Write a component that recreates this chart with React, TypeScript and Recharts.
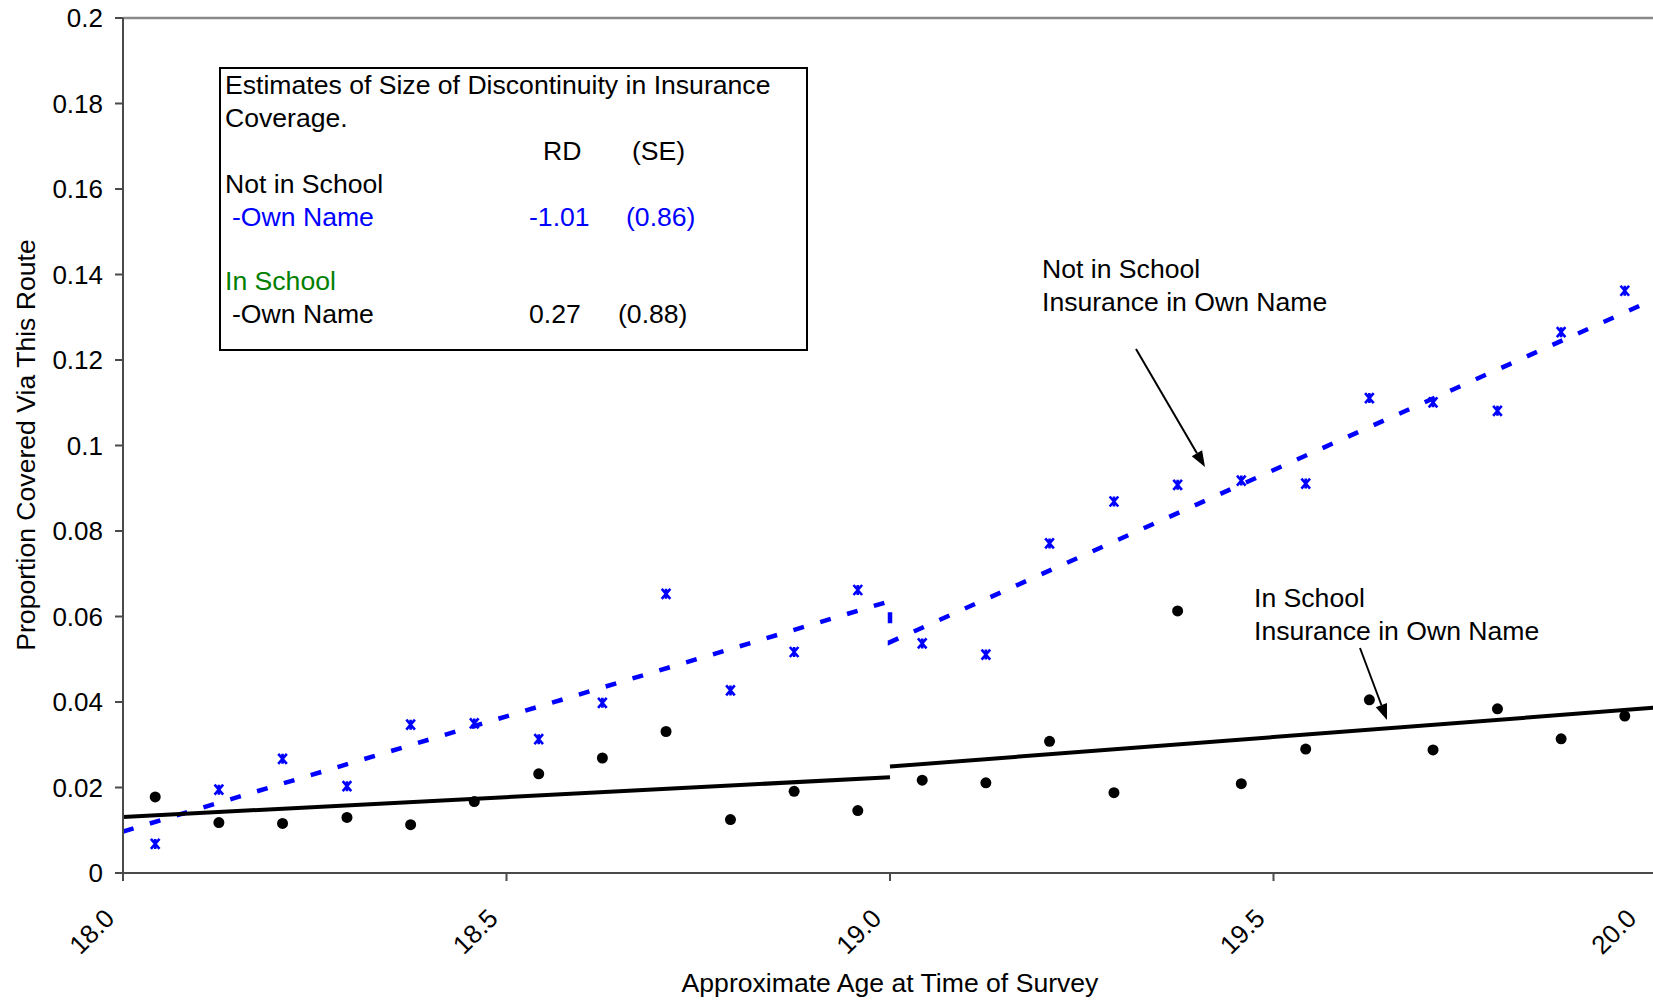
import {
  ComposedChart,
  Scatter,
  Line,
  XAxis,
  YAxis,
  ReferenceLine,
} from "recharts";

// bin midpoints (age in years, monthly bins)
const ages = [
  18.042, 18.125, 18.208, 18.292, 18.375, 18.458, 18.542, 18.625, 18.708, 18.792,
  18.875, 18.958, 19.042, 19.125, 19.208, 19.292, 19.375, 19.458, 19.542, 19.625,
  19.708, 19.792, 19.875, 19.958,
];

// Not in school, insurance in own name
const notInSchool = [
  0.0068, 0.0195, 0.0267, 0.0203, 0.0347, 0.035, 0.0313, 0.0398, 0.0653, 0.0427,
  0.0517, 0.0662, 0.0537, 0.0511, 0.0771, 0.0869, 0.0908, 0.0918, 0.0911, 0.1111,
  0.1101, 0.1081, 0.1265, 0.1362,
];

// In school, insurance in own name
const inSchool = [
  0.0178, 0.0118, 0.0116, 0.013, 0.0113, 0.0167, 0.0232, 0.0269, 0.0331, 0.0125,
  0.0191, 0.0146, 0.0217, 0.0211, 0.0308, 0.0188, 0.0613, 0.0209, 0.029, 0.0405,
  0.0288, 0.0384, 0.0314, 0.0367,
];

// fitted lines (discontinuity at 19.0)
const notFitAges = [18, 19, 19, 20];
const notFitVals = [0.0097, 0.0636, 0.054, 0.1345];
const inFitLeftAges = [18, 19];
const inFitLeftVals = [0.0131, 0.0224];
const inFitRightAges = [19, 20];
const inFitRightVals = [0.0249, 0.0387];

const xTicks = [18, 18.5, 19, 19.5, 20];
const yTicks = [0, 0.02, 0.04, 0.06, 0.08, 0.1, 0.12, 0.14, 0.16, 0.18, 0.2];

const FONT = "'Liberation Sans', Arial, Helvetica, sans-serif";
const BLUE = "#0000ff";
const AXIS = "#4a4a4a";

const toRows = (xs: number[], vs: number[]) => xs.map((age, i) => ({ age, v: vs[i] }));

const notRows = toRows(ages, notInSchool);
const inRows = toRows(ages, inSchool);
const notFit = toRows(notFitAges, notFitVals);
const inFitLeft = toRows(inFitLeftAges, inFitLeftVals);
const inFitRight = toRows(inFitRightAges, inFitRightVals);

function StarMarker(props: any) {
  const { cx, cy } = props;
  if (cx == null || cy == null) return null;
  const rx = 4.3;
  const ry = 5;
  const d = `M${cx - rx},${cy - ry}L${cx + rx},${cy + ry}M${cx + rx},${cy - ry}L${cx - rx},${cy + ry}` +
    `M${cx},${cy - ry}L${cx},${cy + ry}`;
  return <path d={d} stroke={BLUE} strokeWidth={2.6} fill="none" />;
}

function DotMarker(props: any) {
  const { cx, cy } = props;
  if (cx == null || cy == null) return null;
  return <circle cx={cx} cy={cy} r={5.5} fill="#000" />;
}

function AgeTick(props: any) {
  const { x, y, payload } = props;
  const ax = x - 7;
  const ay = y + 39;
  return (
    <text
      x={ax}
      y={ay}
      transform={`rotate(-45 ${ax} ${ay})`}
      textAnchor="end"
      fontSize={26}
      fontFamily={FONT}
      fill="#000"
    >
      {Number(payload.value).toFixed(1)}
    </text>
  );
}

function Arrow({ x1, y1, x2, y2 }: { x1: number; y1: number; x2: number; y2: number }) {
  const ang = Math.atan2(y2 - y1, x2 - x1);
  const len = 16;
  const half = 6;
  const bx = x2 - len * Math.cos(ang);
  const by = y2 - len * Math.sin(ang);
  const px = -Math.sin(ang) * half;
  const py = Math.cos(ang) * half;
  return (
    <g>
      <line x1={x1} y1={y1} x2={bx} y2={by} stroke="#000" strokeWidth={2} />
      <polygon points={`${x2},${y2} ${bx + px},${by + py} ${bx - px},${by - py}`} fill="#000" />
    </g>
  );
}

function Notes() {
  const t = { fontSize: 26.6, fontFamily: FONT, fill: "#000" };
  return (
    <svg
      width={1653}
      height={1002}
      style={{ position: "absolute", left: 0, top: 0, pointerEvents: "none" }}
    >
      {/* estimates box */}
      <rect x={220} y={68} width={587} height={282} fill="none" stroke="#000" strokeWidth={2} />
      <text x={225} y={94} {...t}>Estimates of Size of Discontinuity in Insurance</text>
      <text x={225} y={127} {...t}>Coverage.</text>
      <text x={543} y={160} {...t}>RD</text>
      <text x={632} y={160} {...t}>(SE)</text>
      <text x={225} y={193} {...t}>Not in School</text>
      <text x={232} y={226} {...t} fill={BLUE}>-Own Name</text>
      <text x={529} y={226} {...t} fill={BLUE}>-1.01</text>
      <text x={626} y={226} {...t} fill={BLUE}>(0.86)</text>
      <text x={225} y={290} {...t} fill="#008000">In School</text>
      <text x={232} y={323} {...t}>-Own Name</text>
      <text x={529} y={323} {...t}>0.27</text>
      <text x={618} y={323} {...t}>(0.88)</text>

      {/* series callouts */}
      <text x={1042} y={278} {...t}>Not in School</text>
      <text x={1042} y={311} {...t}>Insurance in Own Name</text>
      <Arrow x1={1136} y1={349} x2={1205} y2={467} />
      <text x={1254} y={607} {...t}>In School</text>
      <text x={1254} y={640} {...t}>Insurance in Own Name</text>
      <Arrow x1={1360} y1={648} x2={1387} y2={720} />

      {/* axis titles */}
      <text x={890} y={992} textAnchor="middle" {...t}>Approximate Age at Time of Survey</text>
      <text x={35} y={445} textAnchor="middle" transform="rotate(-90 35 445)" {...t}>
        Proportion Covered Via This Route
      </text>
    </svg>
  );
}

export default function App() {
  return (
    <div style={{ position: "absolute", left: 0, top: 0, width: 1653, height: 1002, background: "#fff" }}>
      <ComposedChart
        width={1653}
        height={1002}
        margin={{ top: 18, right: -4, bottom: 29, left: 23 }}
        style={{ fontFamily: FONT }}
      >
        <XAxis
          dataKey="age"
          type="number"
          domain={[18, 20]}
          ticks={xTicks}
          allowDataOverflow
          height={100}
          tickSize={8}
          tickMargin={0}
          tick={<AgeTick />}
          axisLine={{ stroke: AXIS, strokeWidth: 2 }}
          tickLine={{ stroke: AXIS, strokeWidth: 2 }}
        />
        <YAxis
          type="number"
          domain={[0, 0.2]}
          ticks={yTicks}
          allowDataOverflow
          width={100}
          tickSize={8}
          tickMargin={12}
          tickFormatter={(v: number) => String(Number(v.toFixed(2)))}
          tick={{ fontSize: 26, fill: "#000", fontFamily: FONT }}
          axisLine={{ stroke: AXIS, strokeWidth: 2 }}
          tickLine={{ stroke: AXIS, strokeWidth: 2 }}
        />
        <ReferenceLine y={0.2} stroke="#8a8a8a" strokeWidth={2.5} ifOverflow="extendDomain" />
        <Line
          data={notFit}
          dataKey="v"
          type="linear"
          stroke={BLUE}
          strokeWidth={4.5}
          strokeDasharray="11 17"
          dot={false}
          activeDot={false}
          isAnimationActive={false}
        />
        <Line
          data={inFitLeft}
          dataKey="v"
          type="linear"
          stroke="#000"
          strokeWidth={4}
          dot={false}
          activeDot={false}
          isAnimationActive={false}
        />
        <Line
          data={inFitRight}
          dataKey="v"
          type="linear"
          stroke="#000"
          strokeWidth={4}
          dot={false}
          activeDot={false}
          isAnimationActive={false}
        />
        <Scatter data={notRows} dataKey="v" shape={<StarMarker />} isAnimationActive={false} />
        <Scatter data={inRows} dataKey="v" shape={<DotMarker />} isAnimationActive={false} />
      </ComposedChart>
      <Notes />
    </div>
  );
}
